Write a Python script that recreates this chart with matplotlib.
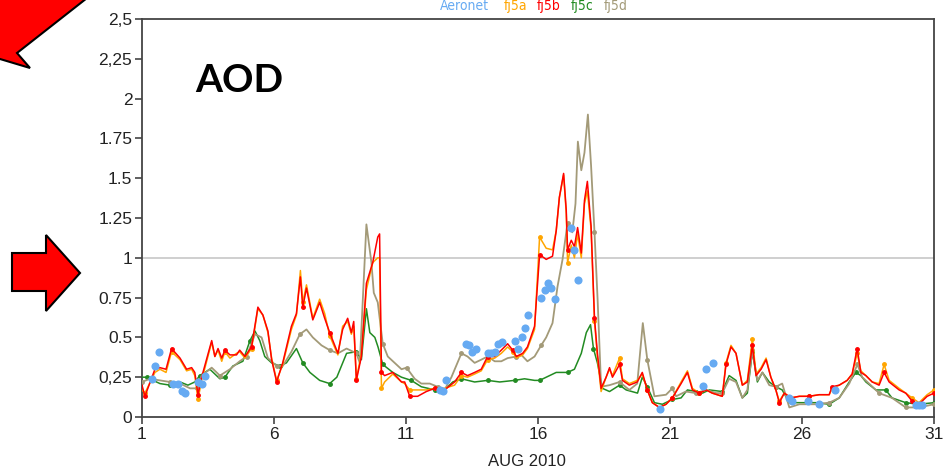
import numpy as np
import matplotlib
matplotlib.use("Agg")
import matplotlib.pyplot as plt
from matplotlib.patches import Polygon

plt.rcParams['font.family'] = ['Liberation Sans', 'DejaVu Sans']

# ---------------- data ----------------
red_t = [1.0,1.11,1.49,1.68,1.91,2.12,2.44,2.69,2.88,3.0,3.12,3.26,3.64,3.76,3.88,4.02,4.14,4.33,4.58,4.70,
         4.90,5.15,5.39,5.58,5.77,5.91,6.10,6.33,6.66,6.85,7.00,7.09,7.23,7.47,7.73,7.92,8.11,8.42,8.60,8.79,
         8.93,9.02,9.12,9.31,9.50,9.74,9.93,10.0,10.07,10.19,10.50,10.83,10.95,11.14,11.44,11.77,12.09,12.46,12.84,13.10,
         13.33,13.60,13.85,14.09,14.36,14.61,14.85,15.04,15.18,15.42,15.60,15.87,16.06,16.31,16.55,16.69,16.81,16.97,17.07,17.12,
         17.26,17.38,17.50,17.64,17.76,17.87,18.01,18.14,18.25,18.39,18.58,18.71,18.82,19.09,19.20,19.46,19.76,19.95,20.14,20.33,
         20.60,20.85,21.09,21.42,21.66,21.85,22.11,22.37,22.60,22.98,23.12,23.31,23.50,23.74,23.93,24.12,24.26,24.45,24.64,24.82,
         25.01,25.14,25.33,25.58,25.90,26.27,26.65,27.03,27.14,27.41,27.71,27.90,28.09,28.23,28.42,28.66,28.92,29.11,29.30,29.68,
         29.93,30.17,30.43,30.74,31.0]
fj5b = [0.20,0.13,0.30,0.31,0.30,0.43,0.37,0.30,0.31,0.28,0.14,0.25,0.48,0.38,0.43,0.37,0.42,0.39,0.39,0.42,
        0.38,0.44,0.69,0.64,0.54,0.36,0.22,0.34,0.57,0.65,0.88,0.69,0.81,0.61,0.72,0.62,0.53,0.40,0.55,0.62,
        0.53,0.60,0.23,0.38,0.84,0.97,1.13,1.15,0.28,0.26,0.28,0.22,0.22,0.13,0.13,0.16,0.18,0.17,0.22,0.28,
        0.26,0.28,0.30,0.38,0.38,0.42,0.46,0.42,0.38,0.40,0.44,0.57,1.02,0.99,1.01,1.17,1.38,1.53,1.30,1.05,
        1.11,1.07,1.19,1.03,1.36,1.48,1.20,0.62,0.40,0.18,0.25,0.31,0.25,0.33,0.23,0.20,0.22,0.28,0.17,0.09,
        0.06,0.08,0.12,0.21,0.28,0.17,0.15,0.17,0.15,0.13,0.33,0.44,0.40,0.20,0.22,0.45,0.26,0.30,0.36,0.25,
        0.17,0.09,0.15,0.12,0.13,0.13,0.14,0.14,0.19,0.20,0.23,0.27,0.43,0.28,0.26,0.22,0.20,0.28,0.22,0.17,
        0.15,0.10,0.08,0.13,0.15]
fj5a = [0.17,0.15,0.28,0.30,0.28,0.41,0.36,0.29,0.30,0.26,0.11,0.23,0.47,0.38,0.42,0.35,0.41,0.37,0.40,0.41,
        0.37,0.43,0.68,0.64,0.53,0.37,0.23,0.33,0.55,0.64,0.92,0.72,0.83,0.62,0.74,0.65,0.51,0.39,0.57,0.60,
        0.52,0.57,0.24,0.40,0.80,0.97,1.00,1.00,0.18,0.22,0.27,0.22,0.21,0.17,0.17,0.17,0.18,0.18,0.20,0.26,
        0.25,0.27,0.29,0.36,0.37,0.40,0.44,0.41,0.37,0.39,0.43,0.55,1.13,1.06,1.05,1.17,1.38,1.52,1.28,0.97,
        1.08,1.00,1.15,1.00,1.34,1.42,1.18,0.60,0.38,0.16,0.25,0.30,0.26,0.37,0.24,0.21,0.23,0.27,0.17,0.09,
        0.06,0.08,0.12,0.22,0.29,0.18,0.15,0.17,0.15,0.13,0.34,0.45,0.40,0.20,0.23,0.49,0.27,0.31,0.37,0.25,
        0.17,0.10,0.15,0.12,0.13,0.13,0.14,0.14,0.18,0.20,0.23,0.27,0.40,0.29,0.26,0.22,0.21,0.33,0.23,0.18,
        0.15,0.12,0.09,0.14,0.17]

green_t = [1.0,1.18,1.42,1.68,2.06,2.44,2.74,3.0,3.19,3.57,3.95,4.14,4.44,4.82,5.09,5.28,5.46,5.65,5.91,6.22,
           6.47,6.85,7.09,7.36,7.73,8.11,8.38,8.75,9.12,9.31,9.50,9.63,9.82,9.94,10.12,10.50,10.83,11.20,11.58,12.09,
           12.46,12.77,13.10,13.60,14.09,14.55,15.11,15.49,15.87,16.06,16.69,17.12,17.38,17.64,17.83,17.99,18.10,18.25,18.44,18.71,
           19.09,19.34,19.77,19.95,20.14,20.41,20.71,21.09,21.42,21.66,21.99,22.23,22.49,22.98,23.24,23.50,23.74,23.93,24.12,24.31,
           24.50,24.76,25.01,25.25,25.52,25.90,26.53,27.03,27.41,27.79,28.04,28.23,28.42,28.80,29.17,29.41,29.93,30.43,31.0]
fj5c = [0.25,0.25,0.23,0.21,0.20,0.22,0.20,0.22,0.26,0.30,0.24,0.25,0.32,0.35,0.48,0.54,0.48,0.38,0.34,0.32,
        0.34,0.43,0.34,0.28,0.23,0.21,0.25,0.40,0.41,0.36,0.68,0.53,0.50,0.44,0.33,0.28,0.25,0.23,0.19,0.17,
        0.17,0.22,0.24,0.22,0.23,0.22,0.23,0.24,0.23,0.23,0.28,0.28,0.30,0.40,0.53,0.58,0.43,0.34,0.18,0.16,
        0.20,0.17,0.15,0.25,0.19,0.09,0.08,0.11,0.12,0.17,0.16,0.15,0.17,0.16,0.26,0.23,0.12,0.15,0.41,0.22,
        0.28,0.22,0.19,0.17,0.09,0.09,0.09,0.08,0.12,0.22,0.28,0.26,0.22,0.17,0.17,0.12,0.09,0.08,0.09]

tan_t = [1.0,1.30,1.68,2.06,2.44,2.82,3.07,3.26,3.64,3.95,4.33,4.70,4.96,5.28,5.53,5.77,6.10,6.33,6.66,6.98,
         7.23,7.47,7.80,8.11,8.42,8.75,9.12,9.25,9.50,9.69,9.78,9.93,10.12,10.31,10.57,10.83,11.02,11.33,11.58,11.90,
         12.20,12.46,12.72,13.10,13.33,13.60,13.85,14.09,14.36,14.61,14.85,15.18,15.37,15.60,15.87,16.12,16.31,16.55,16.74,16.93,
         17.12,17.30,17.42,17.51,17.64,17.76,17.89,18.01,18.14,18.26,18.39,18.71,19.09,19.46,19.76,19.97,20.14,20.41,20.85,21.09,
         21.23,21.60,21.98,22.37,22.75,22.98,23.24,23.50,23.74,23.93,24.12,24.31,24.50,24.76,25.01,25.25,25.52,25.90,26.53,27.03,
         27.41,27.79,28.10,28.28,28.54,28.92,29.41,29.93,30.43,31.0]
fj5d = [0.22,0.24,0.23,0.22,0.21,0.18,0.18,0.26,0.31,0.26,0.30,0.35,0.38,0.52,0.50,0.37,0.32,0.32,0.41,0.52,
        0.55,0.50,0.45,0.42,0.40,0.43,0.40,0.34,1.21,0.97,0.78,0.72,0.46,0.38,0.34,0.30,0.31,0.24,0.21,0.21,
        0.19,0.17,0.25,0.40,0.38,0.34,0.36,0.38,0.35,0.35,0.37,0.38,0.39,0.35,0.38,0.45,0.50,0.59,0.82,0.99,
        1.22,1.16,1.34,1.73,1.55,1.66,1.90,1.58,1.16,0.73,0.19,0.20,0.22,0.17,0.21,0.59,0.36,0.13,0.14,0.18,
        0.13,0.16,0.15,0.17,0.15,0.15,0.24,0.22,0.12,0.17,0.42,0.23,0.28,0.20,0.19,0.21,0.06,0.08,0.08,0.09,
        0.12,0.21,0.33,0.25,0.21,0.15,0.12,0.06,0.06,0.08]

aeronet_t = [1.37,1.49,1.65,2.18,2.37,2.50,2.63,3.13,3.26,3.38,12.27,12.40,12.50,13.26,13.38,13.51,13.64,14.10,14.23,14.37,
             14.48,14.62,15.11,15.24,15.38,15.49,15.62,16.12,16.25,16.37,16.50,16.63,17.26,17.38,17.51,20.62,22.25,22.38,22.63,25.52,
             25.64,26.22,26.64,27.24,30.31,30.44,30.56]
aeronet = [0.24,0.32,0.41,0.21,0.21,0.165,0.15,0.22,0.21,0.26,0.17,0.165,0.23,0.46,0.45,0.41,0.43,0.40,0.40,0.41,
           0.46,0.47,0.48,0.43,0.50,0.56,0.64,0.75,0.80,0.84,0.81,0.74,1.19,1.05,0.86,0.05,0.195,0.30,0.34,0.12,
           0.10,0.10,0.08,0.17,0.075,0.075,0.075]

y_ticks = [0, 0.25, 0.5, 0.75, 1, 1.25, 1.5, 1.75, 2, 2.25, 2.5]
y_labels = ["0", "0,25", "0.5", "0.75", "1", "1.25", "1.5", "1.75", "2", "2,25", "2,5"]
x_ticks = [1, 6, 11, 16, 21, 26, 31]
legend_names = ["Aeronet", "fj5a", "fj5b", "fj5c", "fj5d"]

# ---------------- figure ----------------
W, H = 952, 471
fig = plt.figure(figsize=(W / 100, H / 100), dpi=100)
ax = fig.add_axes([142 / W, 1 - 417 / H, (934 - 142) / W, (417 - 19) / H])

C_AER = '#66aaf2'
C_A = '#ffa500'
C_B = '#ff0000'
C_C = '#228b22'
C_D = '#a39a78'


def daily_marks(t):
    t = np.asarray(t)
    idx = []
    for d in range(1, 32):
        i = int(np.argmin(np.abs(t - (d + 0.1))))
        if abs(t[i] - (d + 0.1)) < 0.2 and i not in idx:
            idx.append(i)
    return idx


ax.axhline(1, color='#cccccc', lw=1.3, zorder=1)
ax.plot(green_t, fj5c, color=C_C, lw=1.1, marker='o', ms=2.5, markevery=daily_marks(green_t), zorder=3)
ax.plot(tan_t, fj5d, color=C_D, lw=1.3, marker='o', ms=2.5, markevery=daily_marks(tan_t), zorder=3)
ax.plot(red_t, fj5a, color=C_A, lw=1.1, marker='o', ms=2.5, markevery=daily_marks(red_t), zorder=4)
ax.plot(red_t, fj5b, color=C_B, lw=1.1, marker='o', ms=2.5, markevery=daily_marks(red_t), zorder=5)
ax.scatter(aeronet_t, aeronet, s=34, color=C_AER, zorder=6, linewidths=0)

ax.set_xlim(1, 31)
ax.set_ylim(0, 2.5)
ax.set_yticks(y_ticks)
ax.set_yticklabels(y_labels)
ax.set_xticks(x_ticks)
ax.set_xticklabels([str(v) for v in x_ticks])
for s in ax.spines.values():
    s.set_color('#444444')
    s.set_linewidth(1.3)
ax.tick_params(direction='out', length=5, width=1.2, color='#444444', labelsize=12.5,
               labelcolor='#222222', pad=2)

fig.text(527 / W, 1 - 461 / H, "AUG 2010", ha='center', va='center', fontsize=12, color='#222222')

# legend texts
leg_x = [440, 504, 537, 571, 604]
leg_c = [C_AER, C_A, C_B, C_C, C_D]
for name, x, c in zip(legend_names, leg_x, leg_c):
    fig.text(x / W, 1 - 6 / H, name, ha='left', va='center', fontsize=10, color=c,
             family=['DejaVu Sans'], fontstretch='condensed')

# AOD label
fig.text(195 / W, 1 - 80 / H, "AOD", ha='left', va='center', fontsize=28, fontweight='bold',
         family=['Lato', 'DejaVu Sans'], color='black')


def fig_poly(pts):
    return Polygon([(x / W, 1 - y / H) for x, y in pts], closed=True, transform=fig.transFigure,
                   facecolor='#ff0000', edgecolor='black', linewidth=1.5, clip_on=False)


fig.patches.append(fig_poly([(110, -20), (17, 53), (30, 68), (-40, 47), (-40, -20)]))
fig.patches.append(fig_poly([(12, 253), (46, 253), (46, 235), (80, 273), (46, 311), (46, 291), (12, 291)]))

fig.savefig("out.png", dpi=100)
